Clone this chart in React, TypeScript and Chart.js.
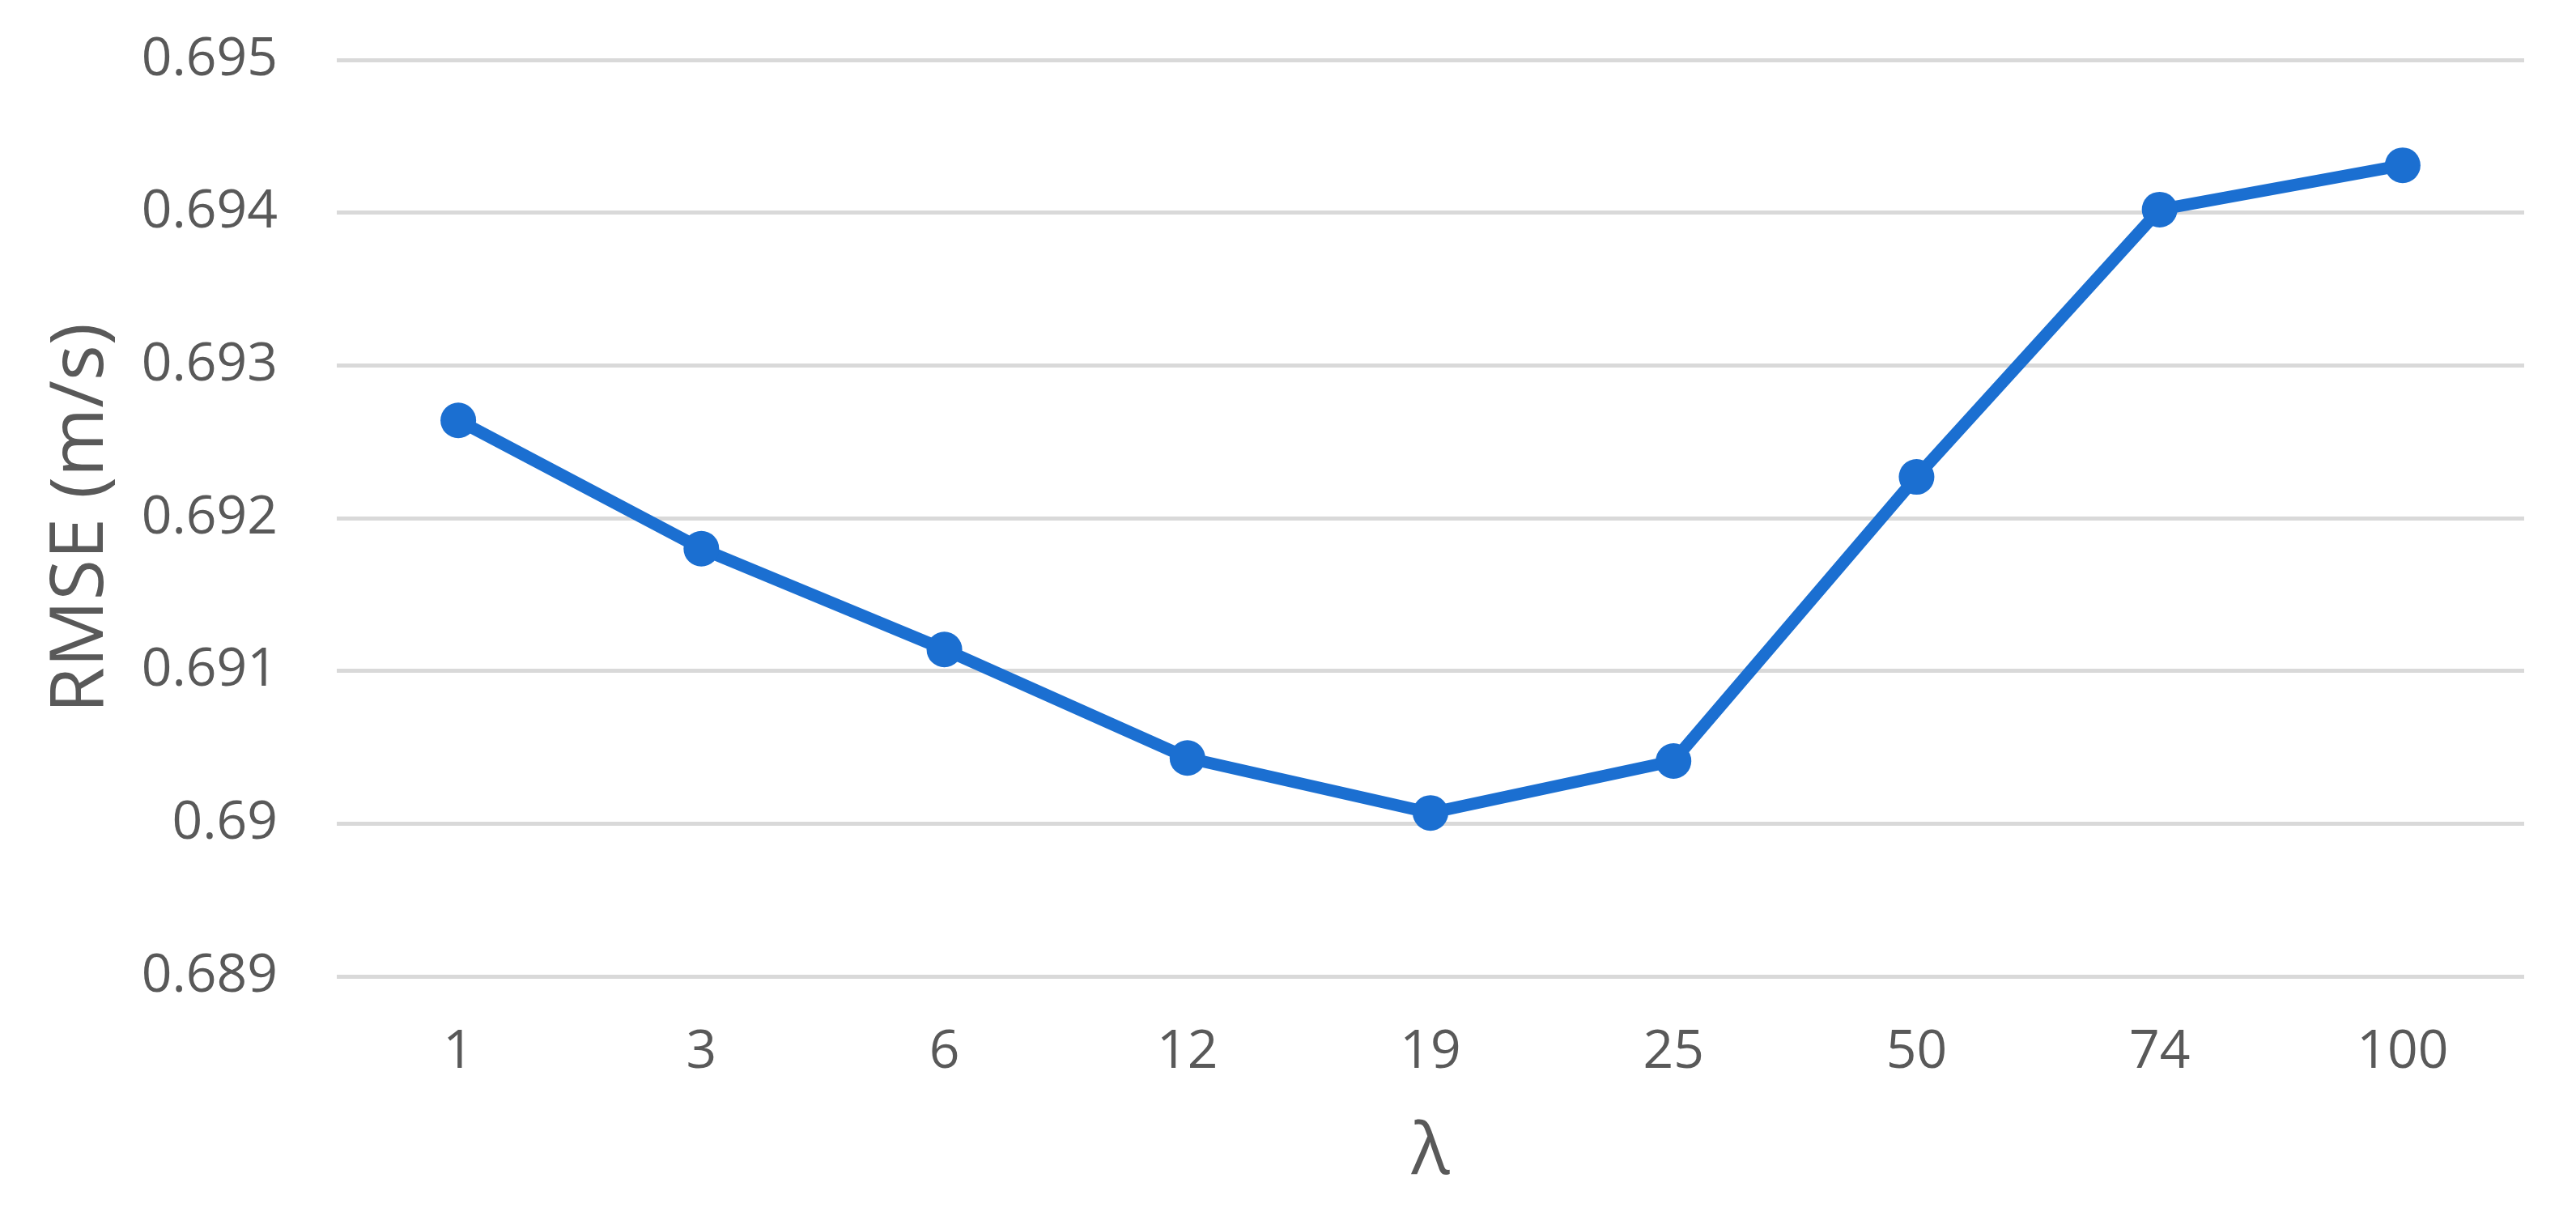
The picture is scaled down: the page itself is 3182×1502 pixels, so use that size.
import React, { useEffect, useRef } from "react";
import { Chart, registerables } from "chart.js";

Chart.register(...registerables);

const categories = ["1", "3", "6", "12", "19", "25", "50", "74", "100"];
const rmseValues = [0.69264, 0.6918, 0.69114, 0.69043, 0.69007, 0.69041, 0.69227, 0.69402, 0.69431];
const yMin = 0.689;
const yMax = 0.695;
const yStep = 0.001;
const xTitle = "λ";
const yTitle = "RMSE (m/s)";

const W = 3182;
const H = 1502;
const FONT = "'Open Sans', 'Noto Sans', sans-serif";
const BLUE = "#1B6FD1";
const TEXT = "#595959";

export default function App() {
  const ref = useRef<HTMLCanvasElement | null>(null);

  useEffect(() => {
    if (!ref.current) return;
    const chart = new Chart(ref.current, {
      type: "line",
      data: {
        labels: categories,
        datasets: [
          {
            data: rmseValues,
            borderColor: BLUE,
            backgroundColor: BLUE,
            borderWidth: 15,
            pointRadius: 22,
            pointBorderWidth: 0,
            pointBackgroundColor: BLUE,
            tension: 0,
            fill: false,
          },
        ],
      },
      options: {
        responsive: false,
        animation: false,
        devicePixelRatio: 1,
        layout: { autoPadding: false, padding: { left: 0, right: 64, top: 74, bottom: 0 } },
        plugins: { legend: { display: false }, tooltip: { enabled: false } },
        scales: {
          x: {
            offset: true,
            grid: { display: false, drawTicks: false },
            border: { display: false },
            ticks: { color: TEXT, font: { family: FONT, size: 66 }, padding: 55, maxRotation: 0 },
            title: {
              display: true,
              text: xTitle,
              color: TEXT,
              font: { family: FONT, size: 88 },
              padding: { top: 0, bottom: 24 },
            },
            afterFit: (s: any) => {
              s.height = 296;
              s.paddingLeft = 0;
              s.paddingRight = 0;
            },
          },
          y: {
            min: yMin,
            max: yMax,
            grid: { color: "#D9D9D9", lineWidth: 5, drawTicks: false },
            border: { display: false },
            ticks: {
              stepSize: yStep,
              color: TEXT,
              font: { family: FONT, size: 66 },
              padding: 73,
              callback: (v: any) => String(parseFloat(Number(v).toFixed(3))),
            },
            title: {
              display: true,
              text: yTitle,
              color: TEXT,
              font: { family: FONT, size: 92 },
              padding: { top: 46, bottom: 0 },
            },
            afterFit: (s: any) => {
              s.width = 416;
              s.paddingTop = 0;
              s.paddingBottom = 0;
            },
          },
        },
      },
    });
    return () => chart.destroy();
  }, []);

  return (
    <div style={{ position: "fixed", left: 0, top: 0, width: W, height: H, background: "#fff" }}>
      <canvas ref={ref} width={W} height={H} style={{ width: W, height: H, display: "block" }} />
    </div>
  );
}
